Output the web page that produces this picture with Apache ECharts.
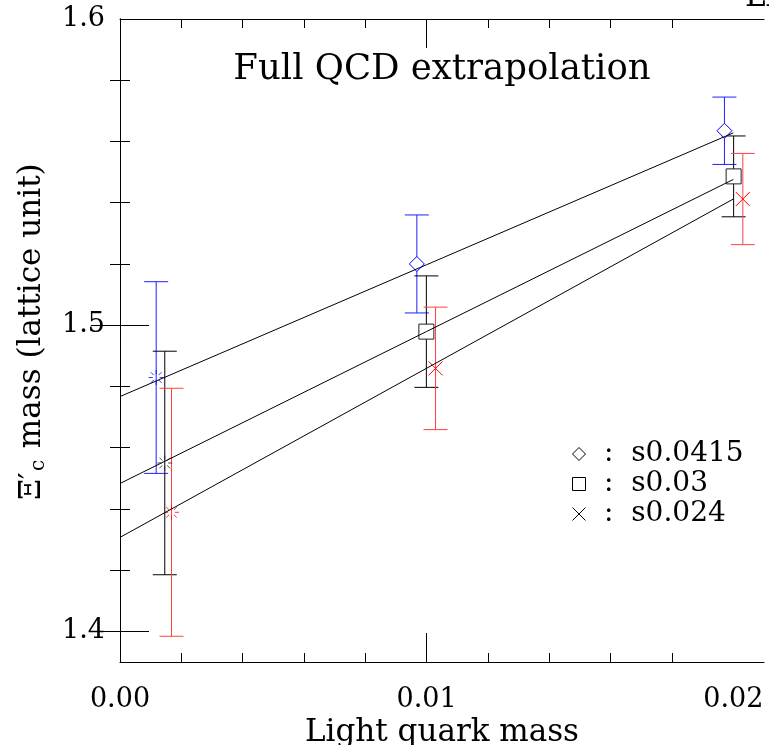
<!DOCTYPE html>
<html><head><meta charset="utf-8">
<script src="https://cdn.jsdelivr.net/npm/echarts@6/dist/echarts.min.js"></script>
<style>html,body{margin:0;padding:0;background:#fff}#c{width:769px;height:745px}</style>
</head><body><div id="c"></div>
<script>
// ---- data ----
const seriesNames = ['s0.0415', 's0.03', 's0.024'];
// [x, y, error]
const pts0415 = [[0.00968, 1.5200, 0.0160], [0.01971, 1.5635, 0.0110]];
const pts03   = [[0.00999, 1.4979, 0.0182], [0.02001, 1.5486, 0.0132]];
const pts024  = [[0.01029, 1.4859, 0.0200], [0.02031, 1.5412, 0.0149]];
// extrapolated values [x, y, error]
const ext0415 = [[0.00118, 1.4829, 0.0313]];
const ext03   = [[0.00146, 1.4550, 0.0365]];
const ext024  = [[0.00168, 1.4389, 0.0405]];
// linear fits [x, y]
const fit0415 = [[0, 1.4767], [0.020, 1.5628]];
const fit03   = [[0, 1.4483], [0.020, 1.5476]];
const fit024  = [[0, 1.4307], [0.020, 1.5412]];
// ticks
const xMinorTicks = [0.002, 0.004, 0.006, 0.008, 0.012, 0.014, 0.016, 0.018];
const xMajorTicks = [0.01];
const xLabels = [0, 0.01, 0.02];
const yMinorTicks = [1.42, 1.44, 1.46, 1.48, 1.52, 1.54, 1.56, 1.58];
const yMajorTicks = [1.4, 1.5];
const yLabels = [1.4, 1.5, 1.6];

const FONT = 'DejaVu Serif';
const X_MIN = 0, X_MAX = 0.021, Y_MIN = 1.39, Y_MAX = 1.6;

function xAx(pos, ticks, len, labels, line) {
  return {
    type: 'value', position: pos, min: X_MIN, max: X_MAX,
    axisLine: { show: line, lineStyle: { color: '#000', width: 1 } },
    axisTick: { show: true, inside: true, length: len, customValues: ticks, lineStyle: { color: '#000', width: 1 } },
    axisLabel: labels ? { show: true, customValues: labels, margin: 24, color: '#000', fontFamily: FONT, fontSize: 27,
      formatter: v => Number(v).toFixed(2) } : { show: false },
    splitLine: { show: false }
  };
}
function yAx(pos, ticks, len, labels, line) {
  return {
    type: 'value', position: pos, min: Y_MIN, max: Y_MAX,
    axisLine: { show: line, lineStyle: { color: '#000', width: 1 } },
    axisTick: { show: true, inside: true, length: len, customValues: ticks, lineStyle: { color: '#000', width: 1 } },
    axisLabel: labels ? { show: true, customValues: labels, margin: 15, color: '#000', fontFamily: FONT, fontSize: 27,
      formatter: v => Number(v).toFixed(1) } : { show: false },
    splitLine: { show: false }
  };
}

const xAxes = [
  xAx('bottom', xMinorTicks, 9, xLabels, true),
  xAx('bottom', xMajorTicks, 29, null, false),
  xAx('top', xMinorTicks, 9, null, true),
  xAx('top', xMajorTicks, 29, null, false)
];
xAxes[0].name = 'Light quark mass';
xAxes[0].nameLocation = 'middle';
xAxes[0].nameGap = 49;
xAxes[0].nameTextStyle = { color: '#000', fontFamily: FONT, fontSize: 31 };

const yAxes = [
  yAx('left', yMinorTicks, 10, yLabels, true),
  yAx('left', yMajorTicks, 29, null, false),
  yAx('right', yMinorTicks, 10, null, true),
  yAx('right', yMajorTicks, 29, null, false)
];

function errBar(color) {
  return function (params, api) {
    const x = api.value(0), lo = api.value(1), hi = api.value(2);
    const a = api.coord([x, lo]), b = api.coord([x, hi]);
    const hw = 12;
    const st = { stroke: color, lineWidth: 1 };
    return { type: 'group', children: [
      { type: 'line', shape: { x1: a[0], y1: a[1], x2: b[0], y2: b[1] }, style: st },
      { type: 'line', shape: { x1: a[0] - hw, y1: a[1], x2: a[0] + hw, y2: a[1] }, style: st },
      { type: 'line', shape: { x1: b[0] - hw, y1: b[1], x2: b[0] + hw, y2: b[1] }, style: st }
    ]};
  };
}
const toErr = arr => arr.map(d => [d[0], d[1] - d[2], d[1] + d[2]]);
const toPt = arr => arr.map(d => [d[0], d[1]]);

const BURST = 'path://M14.5,10L20,10M13.18,13.18L17.07,17.07M10,14.5L10,20M6.82,13.18L2.93,17.07M5.5,10L0,10M6.82,6.82L2.93,2.93M10,5.5L10,0M13.18,6.82L17.07,2.93';
const DIAMOND = 'path://M5,0L10,5L5,10L0,5Z';
const SQUARE = 'path://M0,0L10,0L10,10L0,10Z';
const CROSS = 'path://M0,0L10,10M10,0L0,10';

const groups = [
  { name: seriesNames[0], pts: pts0415, ext: ext0415, fit: fit0415, mark: DIAMOND, size: 15, color: '#0000ff', err: '#1f1fff', fill: '#fff' },
  { name: seriesNames[1], pts: pts03, ext: ext03, fit: fit03, mark: SQUARE, size: 15, color: '#222', err: '#000', fill: '#fff' },
  { name: seriesNames[2], pts: pts024, ext: ext024, fit: fit024, mark: CROSS, size: 14, color: '#ff0000', err: '#ff4040', fill: 'transparent' }
];

const series = [];
groups.forEach(g => {
  series.push({ type: 'custom', name: g.name + ' err', renderItem: errBar(g.err), data: toErr(g.pts.concat(g.ext)), z: 2, silent: true, encode: { x: 0, y: [1, 2] } });
});
groups.forEach(g => {
  series.push({ type: 'scatter', name: g.name, data: toPt(g.pts), symbol: g.mark, symbolSize: g.size, symbolKeepAspect: true, z: 3,
    itemStyle: { color: g.fill, borderColor: g.color, borderWidth: 1, opacity: 1 } });
  series.push({ type: 'scatter', name: g.name + ' ext', data: toPt(g.ext), symbol: BURST, symbolSize: 15, symbolKeepAspect: true, z: 3,
    itemStyle: { color: 'transparent', borderColor: g.color, borderWidth: 1 } });
});
groups.forEach(g => {
  series.push({ type: 'line', name: g.name + ' fit', data: g.fit, symbol: 'none', z: 4, silent: true,
    lineStyle: { color: '#000', width: 1 } });
});

const chart = echarts.init(document.getElementById('c'), null, { renderer: 'canvas' });
chart.setOption({
  animation: false,
  backgroundColor: '#fff',
  grid: { left: 120, top: 19, right: 5, bottom: 83, containLabel: false, outerBoundsMode: 'none' },
  xAxis: xAxes,
  yAxis: yAxes,
  legend: {
    orient: 'vertical', left: 567, top: 434, itemWidth: 40, itemHeight: 13, itemGap: 0,
    symbolKeepAspect: true, selectedMode: false,
    textStyle: { fontFamily: FONT, fontSize: 28, color: '#000', lineHeight: 30 },
    formatter: n => ':  ' + n,
    data: [
      { name: seriesNames[0], icon: DIAMOND, itemStyle: { color: 'transparent', borderColor: '#000', borderWidth: 1 } },
      { name: seriesNames[1], icon: SQUARE, itemStyle: { color: 'transparent', borderColor: '#000', borderWidth: 1 } },
      { name: seriesNames[2], icon: CROSS, itemStyle: { color: 'transparent', borderColor: '#000', borderWidth: 1 } }
    ]
  },
  graphic: [
    { type: 'text', x: 442, y: 70, silent: true,
      style: { text: 'Full QCD extrapolation', fill: '#000', font: '35.5px "DejaVu Serif"', align: 'center', verticalAlign: 'middle' } },
    { type: 'group', x: 32, y: 500, rotation: Math.PI / 2, silent: true, children: [
      { type: 'text', x: 0, y: 0, style: { text: 'Ξ′', fill: '#000', font: '30px "DejaVu Serif"', align: 'left', verticalAlign: 'middle' } },
      { type: 'text', x: 29, y: 7, style: { text: 'c', fill: '#000', font: '20px "DejaVu Serif"', align: 'left', verticalAlign: 'middle' } },
      { type: 'text', x: 42, y: 0, style: { text: ' mass (lattice unit)', fill: '#000', font: '31px "DejaVu Serif"', align: 'left', verticalAlign: 'middle' } }
    ]},
    { type: 'text', x: 100, y: -9, silent: true,
      style: { text: 'Light quark mass', fill: '#000', font: '31px "DejaVu Serif"', align: 'right', verticalAlign: 'middle' } },
    { type: 'text', x: 745, y: -2, silent: true,
      style: { text: 'Light quark mass', fill: '#000', font: '31px "DejaVu Serif"', align: 'left', verticalAlign: 'middle' } }
  ],
  series: series
});
</script>
</body></html>
